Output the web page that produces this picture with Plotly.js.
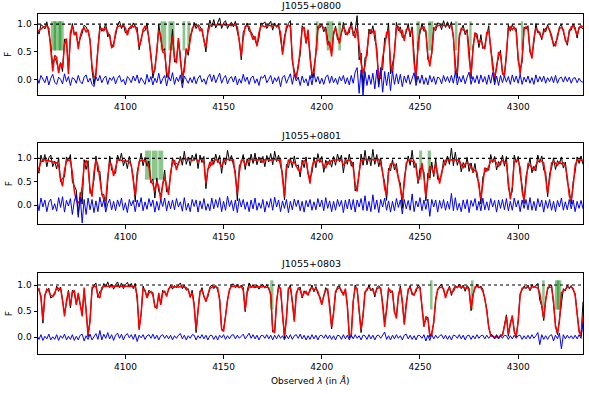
<!DOCTYPE html>
<html>
<head>
<meta charset="utf-8">
<script src="https://cdn.plot.ly/plotly-3.0.1.min.js"></script>
<style>
  body { margin: 0; background: #fff; }
  #chart { width: 589px; height: 394px; }
</style>
</head>
<body>
<div id="chart"></div>
<script>
// spectra are sampled every 1 A from 4055 A to 4333 A
const lamStart = 4055;
const lamStep = 1;

const names = ["J1055+0800", "J1055+0801", "J1055+0803"];
const xTicks = [4100, 4150, 4200, 4250, 4300];

// fitted model (red), one value per sample
const fit0800 = [
  0.86,0.88,0.91,0.94,0.96,0.97,0.93,0.60,0.15,0.44,
  0.40,0.12,0.30,0.22,0.62,0.74,0.10,0.85,0.97,0.80,
  0.86,0.55,0.78,0.90,0.93,0.86,0.90,0.70,0.25,0.04,
  0.08,0.55,0.90,0.92,0.88,0.93,0.85,0.78,0.58,0.60,
  0.86,0.95,0.97,0.96,0.98,0.93,0.80,0.92,0.97,0.95,
  0.96,0.85,0.60,0.70,0.90,0.96,0.92,0.75,0.40,0.12,
  0.18,0.55,0.88,0.80,0.50,0.48,0.15,0.04,0.50,0.78,
  0.40,0.30,0.75,0.35,0.08,0.15,0.55,0.50,0.75,0.92,
  0.97,0.99,0.96,0.88,0.92,0.70,0.58,0.85,0.97,0.98,
  0.99,0.98,0.99,0.99,0.98,0.99,0.98,0.99,0.98,0.97,
  0.99,0.98,0.95,0.70,0.42,0.75,0.96,0.97,0.95,0.82,
  0.72,0.78,0.60,0.85,0.96,0.97,0.95,0.97,0.98,0.97,
  0.96,0.98,0.97,0.95,0.85,0.45,0.70,0.96,0.98,0.95,
  0.40,0.08,0.05,0.22,0.55,0.90,0.95,0.65,0.90,0.40,
  0.12,0.10,0.50,0.90,1.00,0.96,0.94,0.90,0.62,0.68,
  0.42,0.85,0.93,0.80,0.65,0.85,0.95,0.88,0.80,0.93,
  0.96,0.85,0.75,0.93,0.60,0.30,0.12,0.25,0.52,0.82,
  0.90,0.85,0.88,0.40,0.05,0.02,0.40,0.60,0.85,0.88,
  0.30,0.12,0.55,0.92,0.95,0.85,0.88,0.70,0.90,0.92,
  0.85,0.90,0.30,0.06,0.60,0.90,0.92,0.95,0.85,0.45,
  0.24,0.50,0.88,0.96,0.97,0.98,0.97,0.98,0.97,0.98,
  0.97,0.96,0.80,0.15,0.12,0.75,0.92,0.90,0.88,0.85,
  0.40,0.10,0.55,0.85,0.75,0.65,0.72,0.60,0.55,0.85,
  0.88,0.60,0.20,0.05,0.20,0.50,0.45,0.15,0.05,0.45,
  0.92,0.95,0.90,0.95,0.85,0.40,0.10,0.40,0.90,0.95,
  0.90,0.55,0.38,0.75,0.92,0.88,0.80,0.75,0.85,0.92,
  0.95,0.90,0.75,0.65,0.60,0.80,0.92,0.94,0.90,0.70,
  0.65,0.85,0.95,0.97,0.90,0.80,0.92,0.97,0.95
];
const fit0801 = [
  0.68,0.80,0.92,0.96,0.97,0.96,0.95,0.94,0.92,0.91,
  0.90,0.85,0.55,0.40,0.75,0.93,0.96,0.94,0.70,0.30,
  0.10,0.05,0.10,0.40,0.85,0.96,0.80,0.35,0.18,0.70,
  0.96,0.85,0.55,0.25,0.12,0.10,0.60,0.92,0.85,0.62,
  0.80,0.96,0.97,0.96,0.95,0.93,0.94,0.92,0.85,0.50,
  0.21,0.60,0.93,0.95,0.96,0.95,0.92,0.80,0.50,0.45,
  0.30,0.50,0.40,0.10,0.45,0.60,0.40,0.22,0.70,0.90,
  0.96,0.75,0.90,0.97,0.98,0.99,0.98,0.99,0.98,0.95,
  0.98,0.99,0.93,0.98,0.99,0.90,0.46,0.75,0.92,0.85,
  0.95,0.97,0.96,0.90,0.82,0.93,0.97,0.98,0.97,0.96,
  0.97,0.60,0.25,0.70,0.95,0.96,0.85,0.92,0.97,0.98,
  0.97,0.96,0.97,0.98,0.97,0.92,0.97,0.98,0.97,0.96,
  0.97,0.98,0.97,0.96,0.97,0.60,0.18,0.75,0.96,0.93,
  0.90,0.92,0.85,0.75,0.72,0.88,0.95,0.93,0.70,0.46,
  0.80,0.95,0.90,0.96,0.95,0.93,0.82,0.80,0.93,0.88,
  0.95,0.96,0.96,0.97,0.96,0.97,0.85,0.90,0.95,0.96,
  0.93,0.80,0.45,0.29,0.70,0.95,0.96,0.97,0.98,0.97,
  0.98,0.97,0.96,0.97,0.98,0.88,0.70,0.35,0.21,0.70,
  0.88,0.89,0.87,0.75,0.60,0.36,0.12,0.45,0.90,0.95,
  0.96,0.93,0.94,0.80,0.50,0.62,0.90,0.60,0.18,0.55,
  0.82,0.80,0.65,0.88,0.70,0.46,0.70,0.85,0.96,0.97,
  0.96,0.97,0.96,0.97,0.96,0.96,0.85,0.80,0.88,0.90,
  0.88,0.80,0.72,0.75,0.70,0.40,0.14,0.45,0.80,0.72,
  0.85,0.94,0.95,0.94,0.90,0.82,0.92,0.95,0.93,0.90,
  0.50,0.12,0.40,0.92,0.95,0.94,0.80,0.30,0.10,0.50,
  0.88,0.85,0.80,0.75,0.85,0.93,0.95,0.94,0.90,0.60,
  0.25,0.55,0.90,0.93,0.90,0.85,0.92,0.88,0.90,0.85,
  0.60,0.20,0.10,0.40,0.85,0.95,0.96,0.95,0.95
];
const fit0803 = [
  0.92,0.93,0.75,0.33,0.80,0.92,0.88,0.80,0.78,0.85,
  0.93,0.94,0.93,0.70,0.40,0.70,0.88,0.60,0.85,0.90,
  0.62,0.85,0.60,0.40,0.95,0.50,0.05,0.30,0.95,0.98,
  0.97,0.80,0.75,0.95,0.97,0.98,0.97,0.98,0.97,0.98,
  0.97,0.98,0.97,0.98,0.98,0.97,0.98,0.97,0.98,0.97,
  0.97,0.80,0.14,0.45,0.93,0.90,0.75,0.85,0.88,0.80,
  0.60,0.55,0.85,0.62,0.85,0.88,0.78,0.93,0.96,0.97,
  0.96,0.97,0.96,0.97,0.96,0.96,0.95,0.90,0.78,0.85,
  0.60,0.14,0.50,0.88,0.90,0.80,0.68,0.82,0.93,0.96,
  0.97,0.96,0.95,0.70,0.15,0.11,0.45,0.70,0.92,0.97,
  0.97,0.98,0.97,0.96,0.97,0.90,0.52,0.85,0.96,0.97,
  0.96,0.97,0.96,0.97,0.96,0.97,0.96,0.96,0.95,0.80,
  0.15,0.08,0.70,0.95,0.94,0.45,0.03,0.35,0.94,0.95,
  0.70,0.30,0.80,0.95,0.90,0.78,0.85,0.88,0.80,0.92,
  0.95,0.90,0.93,0.88,0.75,0.62,0.80,0.90,0.92,0.60,
  0.20,0.45,0.88,0.93,0.95,0.90,0.80,0.93,0.60,0.04,
  0.02,0.70,0.95,0.93,0.50,0.14,0.40,0.85,0.93,0.95,
  0.92,0.90,0.82,0.92,0.95,0.94,0.60,0.20,0.55,0.92,
  0.90,0.85,0.50,0.36,0.80,0.95,0.70,0.24,0.60,0.92,
  0.95,0.85,0.80,0.92,0.96,0.94,0.60,0.20,0.40,0.35,
  0.06,0.04,0.30,0.70,0.92,0.95,0.96,0.93,0.75,0.90,
  0.95,0.85,0.88,0.96,0.96,0.97,0.96,0.96,0.93,0.96,
  0.90,0.55,0.80,0.96,0.97,0.96,0.95,0.88,0.75,0.50,
  0.20,0.03,0.01,0.00,0.01,0.00,0.02,0.05,0.20,0.40,
  0.06,0.25,0.42,0.10,0.02,0.30,0.80,0.94,0.95,0.96,
  0.96,0.92,0.96,0.97,0.96,0.94,0.85,0.55,0.36,0.70,
  0.95,0.96,0.95,0.70,0.20,0.08,0.30,0.85,0.88,0.92,
  0.96,0.95,0.96,0.93,0.80,0.50,0.10,0.04,0.40
];

// residuals, data minus fit (blue)
const res0800 = [
  0.04,-0.06,0.08,0.02,-0.05,0.07,-0.09,0.03,0.10,-0.04,
  -0.08,0.05,0.01,-0.07,0.11,-0.03,0.06,-0.10,0.04,0.02,
  -0.06,0.08,-0.03,-0.07,0.05,0.09,-0.04,0.03,-0.08,-0.12,
  0.06,-0.02,0.08,-0.05,0.03,0.07,-0.08,0.04,-0.01,0.06,
  -0.07,0.03,0.08,-0.04,0.01,-0.09,0.06,0.02,-0.05,0.07,
  -0.02,0.09,-0.06,0.04,-0.03,-0.08,0.10,-0.04,0.06,-0.09,
  0.03,-0.05,0.12,-0.07,0.02,0.08,-0.11,0.06,-0.02,0.13,
  -0.08,0.05,-0.03,0.09,-0.14,0.07,0.01,-0.06,0.04,-0.05,
  0.06,-0.07,0.03,0.08,-0.04,0.02,-0.08,0.05,0.10,-0.03,
  0.09,-0.05,0.04,0.12,-0.06,0.03,0.08,-0.07,0.02,0.06,
  -0.04,0.07,-0.09,0.02,-0.06,0.10,-0.03,0.05,-0.08,0.04,
  0.07,-0.06,0.02,-0.10,0.06,0.03,0.09,-0.05,0.01,0.08,
  -0.07,0.04,-0.03,0.06,-0.12,0.05,0.08,-0.06,0.03,0.11,
  -0.08,0.09,-0.02,0.05,-0.10,0.07,-0.05,0.02,-0.11,0.08,
  -0.09,0.12,-0.04,0.06,-0.07,0.03,-0.08,0.05,0.09,-0.06,
  0.07,-0.05,0.03,-0.08,0.06,-0.02,0.08,-0.07,0.04,-0.09,
  0.08,-0.06,0.14,0.22,-0.24,0.18,-0.28,0.15,-0.10,0.09,
  -0.08,0.12,-0.16,0.18,-0.13,0.20,-0.22,0.15,-0.10,0.14,
  -0.19,0.16,-0.08,0.11,-0.07,0.10,-0.12,0.07,-0.05,0.09,
  -0.08,0.05,0.13,-0.10,0.07,-0.06,0.09,-0.08,0.04,-0.09,
  0.08,-0.04,0.06,-0.08,0.05,0.03,-0.07,0.08,-0.03,0.06,
  -0.05,0.08,-0.06,0.15,-0.09,0.06,-0.04,0.08,-0.07,0.05,
  0.14,-0.08,0.06,-0.05,0.08,-0.07,0.09,-0.04,0.06,-0.08,
  0.09,-0.06,0.13,-0.09,0.07,-0.10,0.08,-0.05,0.07,-0.04,
  0.06,-0.08,0.09,-0.04,0.07,-0.06,0.10,-0.08,0.05,-0.04,
  0.07,-0.06,0.04,-0.08,0.09,-0.04,0.06,-0.03,0.07,-0.06,
  0.04,-0.03,0.06,-0.05,0.08,-0.06,0.03,0.05,-0.04,0.06,
  -0.03,0.05,-0.06,0.03,0.04,-0.05,0.03,-0.03,-0.04
];
const res0801 = [
  0.09,-0.12,0.15,-0.04,0.11,-0.14,0.06,0.13,-0.10,0.03,
  -0.13,0.16,-0.05,0.18,-0.15,0.10,-0.02,0.14,-0.20,0.09,
  0.22,-0.26,0.17,-0.38,0.12,-0.20,0.15,-0.10,0.12,-0.16,
  0.09,-0.14,0.17,-0.04,0.11,-0.15,0.03,0.13,-0.10,0.08,
  -0.12,0.11,-0.03,0.15,-0.11,0.05,-0.16,0.12,-0.02,0.10,
  -0.14,0.11,-0.04,0.16,-0.12,0.07,-0.09,0.14,-0.03,0.11,
  -0.15,0.08,-0.11,0.12,-0.03,0.15,-0.12,0.09,-0.08,0.11,
  -0.10,0.14,-0.04,0.07,-0.13,0.16,-0.11,0.04,-0.14,0.12,
  -0.03,0.11,-0.15,0.09,-0.08,0.14,-0.11,0.03,-0.12,0.15,
  -0.08,0.12,-0.05,0.16,-0.14,0.08,-0.11,0.19,-0.03,0.10,
  -0.12,0.11,-0.16,0.14,-0.04,0.12,-0.09,0.07,-0.14,0.11,
  -0.08,0.15,-0.11,0.05,-0.07,0.12,-0.15,0.08,-0.05,0.14,
  -0.11,0.17,-0.04,0.11,-0.14,0.09,-0.07,0.12,-0.16,0.08,
  -0.10,0.13,-0.03,0.11,-0.12,0.08,-0.15,0.10,-0.04,0.12,
  -0.11,0.07,-0.10,0.14,-0.04,0.11,-0.12,0.16,-0.07,0.09,
  -0.14,0.08,-0.11,0.12,-0.03,0.10,-0.16,0.11,-0.08,0.13,
  -0.10,0.12,-0.15,0.11,-0.04,0.14,-0.11,0.20,-0.12,0.08,
  -0.14,0.22,-0.09,0.11,-0.16,0.12,-0.04,0.15,-0.11,0.09,
  -0.15,0.08,-0.12,0.14,-0.05,0.11,-0.19,0.12,-0.08,0.10,
  -0.11,0.24,-0.14,0.09,-0.04,0.16,-0.12,0.11,-0.09,0.13,
  -0.24,0.12,-0.04,0.11,-0.15,0.10,-0.07,0.12,-0.11,0.08,
  -0.09,0.25,-0.12,0.16,-0.11,0.04,-0.14,0.11,-0.08,0.12,
  -0.16,0.10,-0.03,0.14,-0.11,0.08,-0.12,0.15,-0.10,0.07,
  -0.11,0.14,-0.04,0.10,-0.15,0.11,-0.07,0.12,-0.10,0.14,
  -0.12,0.08,-0.11,0.15,-0.04,0.10,-0.14,0.11,-0.07,0.12,
  -0.10,0.16,-0.11,0.08,-0.12,0.14,-0.04,0.11,-0.15,0.10,
  -0.07,0.12,-0.11,0.08,-0.14,0.10,-0.04,0.15,-0.11,0.07,
  -0.10,0.12,-0.08,0.11,-0.14,0.08,-0.07,0.10,-0.08
];
const res0803 = [
  0.03,-0.04,0.05,-0.06,0.02,-0.03,0.06,-0.05,0.01,-0.04,
  0.05,-0.06,0.03,-0.02,0.06,-0.05,0.02,-0.04,0.05,-0.06,
  0.02,-0.05,0.04,0.06,-0.07,0.03,-0.04,0.06,-0.05,0.01,
  0.07,-0.04,0.13,-0.05,0.06,-0.02,0.09,-0.03,0.05,-0.06,
  0.04,0.08,-0.02,0.06,-0.05,0.04,0.07,-0.01,0.05,-0.04,
  0.06,-0.08,0.04,-0.01,0.05,-0.04,0.03,0.05,-0.02,0.06,
  -0.03,0.04,-0.05,0.03,0.05,-0.02,0.04,-0.03,0.04,-0.05,
  0.03,-0.02,0.04,0.07,-0.03,0.04,-0.05,0.03,-0.02,0.05,
  0.04,-0.05,0.03,-0.02,0.05,-0.03,0.04,-0.05,0.03,0.04,
  -0.04,0.03,-0.05,0.04,-0.01,0.05,-0.04,0.03,-0.03,0.04,
  0.05,-0.03,0.04,-0.02,0.03,0.06,-0.03,0.04,0.08,-0.02,
  0.05,-0.03,0.04,-0.05,0.03,0.04,-0.02,0.05,-0.03,0.04,
  -0.05,0.04,-0.03,0.05,-0.02,0.03,-0.05,0.04,-0.03,0.05,
  -0.04,0.03,0.05,-0.02,0.06,-0.03,0.04,-0.05,0.03,-0.04,
  0.05,-0.03,0.04,-0.05,0.03,0.04,-0.02,0.05,-0.03,0.04,
  -0.04,0.03,-0.05,0.04,0.03,-0.04,0.05,-0.03,0.04,-0.05,
  0.04,-0.03,0.05,-0.02,0.03,-0.05,0.04,0.03,-0.04,0.05,
  -0.03,0.04,-0.05,0.03,0.04,-0.02,0.05,0.10,-0.04,0.03,
  -0.05,0.04,-0.03,0.05,-0.02,0.03,-0.05,0.04,0.06,-0.03,
  0.04,-0.04,0.03,-0.05,0.04,0.03,-0.02,0.05,-0.07,0.04,
  -0.06,0.05,-0.03,0.04,-0.02,0.03,0.05,-0.03,0.04,-0.04,
  0.03,-0.05,0.04,0.03,-0.02,0.05,-0.03,0.04,-0.05,0.03,
  0.04,-0.04,0.03,-0.03,0.05,-0.02,0.03,0.04,-0.03,0.04,
  -0.02,0.03,0.03,-0.03,0.04,-0.03,0.03,-0.02,0.04,0.03,
  -0.04,0.03,-0.03,0.04,-0.02,0.03,0.04,-0.04,0.03,-0.03,
  0.04,-0.03,0.05,-0.02,0.03,0.09,-0.14,0.05,-0.04,0.03,
  -0.04,0.03,0.05,-0.07,0.04,-0.03,0.08,-0.22,0.05,-0.03,
  0.04,-0.02,0.03,-0.03,0.04,-0.03,0.05,-0.02,0.28
];

// masked wavelength windows (green), [start, end] in A
const mask0800 = [[4062.1,4064.7],[4063.5,4067.4],[4066.0,4068.6],[4117.9,4120.8],[4121.9,4125.0],
  [4129.1,4130.5],[4131.5,4133.0],[4196.9,4198.3],[4202.5,4205.9],[4208.4,4209.8],[4248.3,4250.0],
  [4254.2,4256.8],[4267.8,4269.1],[4275.1,4276.3],[4301.4,4302.5]];
const mask0801 = [[4110.0,4113.0],[4113.4,4116.4],[4116.8,4119.3],[4249.6,4251.1],[4253.9,4255.6]];
const mask0803 = [[4173.7,4175.4],[4255.1,4256.4],[4275.9,4277.3],[4312.2,4313.5],[4318.7,4321.0],[4319.7,4322.0]];

const fits = [fit0800, fit0801, fit0803];
const resids = [res0800, res0801, res0803];
const masks = [mask0800, mask0801, mask0803];

const yRanges = [[-0.27, 1.18], [-0.41, 1.32], [-0.325, 1.23]];
const yDomains = [[0.7589, 0.9645], [0.4307, 0.6363], [0.1008, 0.3071]];
const titleY = [0.987, 0.657, 0.33];

const W = 589, H = 394, ML = 38, MR = 6;
const font = 'DejaVu Sans';

let traces = [];
let shapes = [];
let annotations = [];
let layout = {
    width: W, height: H,
    margin: {l: ML, r: MR, t: 0, b: 0},
    paper_bgcolor: 'white', plot_bgcolor: 'white',
    showlegend: false,
    font: {family: font, size: 9, color: 'black'}
};

for (let p = 0; p < 3; p++) {
    const fit = fits[p];
    const res = resids[p];
    const lam = fit.map((_, i) => lamStart + i * lamStep);
    const data = fit.map((v, i) => v + res[i]);  // data = fit + residual
    const sfx = p === 0 ? '' : String(p + 1);
    const xa = 'x' + sfx, ya = 'y' + sfx;

    traces.push({x: lam, y: data, xaxis: xa, yaxis: ya, type: 'scatter', mode: 'lines',
        line: {color: 'black', width: 1}, hoverinfo: 'skip'});
    traces.push({x: lam, y: fit, xaxis: xa, yaxis: ya, type: 'scatter', mode: 'lines',
        line: {color: 'red', width: 1.5}, hoverinfo: 'skip'});
    traces.push({x: lam, y: res, xaxis: xa, yaxis: ya, type: 'scatter', mode: 'lines',
        line: {color: 'blue', width: 1}, hoverinfo: 'skip'});

    layout['xaxis' + sfx] = {
        domain: [0, 1], range: [4055.5, 4333], anchor: ya,
        showline: true, mirror: true, linecolor: 'black', linewidth: 1,
        ticks: 'outside', ticklen: 3.5, tickcolor: 'black',
        tickvals: xTicks, showgrid: false, zeroline: false,
        tickfont: {family: font, size: 9, color: 'black'}
    };
    layout['yaxis' + sfx] = {
        domain: yDomains[p], range: yRanges[p], anchor: xa,
        showline: true, mirror: true, linecolor: 'black', linewidth: 1,
        ticks: 'outside', ticklen: 3.5, tickcolor: 'black',
        tickvals: [0, 0.5, 1], ticktext: ['0.0', '0.5', '1.0'],
        showgrid: false, zeroline: false,
        tickfont: {family: font, size: 9, color: 'black'}
    };

    masks[p].forEach(m => {
        shapes.push({type: 'rect', xref: xa, yref: ya + ' domain', x0: m[0], x1: m[1], y0: 0.55, y1: 0.91,
            fillcolor: 'rgba(0,128,0,0.45)', line: {width: 0}, layer: 'below'});
    });
    shapes.push({type: 'line', xref: xa + ' domain', yref: ya, x0: 0, x1: 1, y0: 1, y1: 1,
        line: {color: 'black', width: 1.2, dash: 'dot'}, layer: 'above'});

    annotations.push({text: names[p], xref: 'paper', yref: 'paper', x: 0.5, y: titleY[p],
        xanchor: 'center', yanchor: 'middle', showarrow: false,
        font: {family: font, size: 9.5, color: 'black'}});
    annotations.push({text: 'F', xref: 'paper', yref: 'paper', x: (8.5 - ML) / (W - ML - MR),
        y: (yDomains[p][0] + yDomains[p][1]) / 2, textangle: -90,
        xanchor: 'center', yanchor: 'middle', showarrow: false,
        font: {family: font, size: 9, color: 'black'}});
}

annotations.push({text: 'Observed <i>λ</i> (in <i>Å</i>)', xref: 'paper', yref: 'paper',
    x: 0.5, y: 1 - 380 / H, xanchor: 'center', yanchor: 'middle', showarrow: false,
    font: {family: font, size: 9, color: 'black'}});

layout.shapes = shapes;
layout.annotations = annotations;

Plotly.newPlot('chart', traces, layout, {displayModeBar: false, staticPlot: true});
</script>
</body>
</html>
